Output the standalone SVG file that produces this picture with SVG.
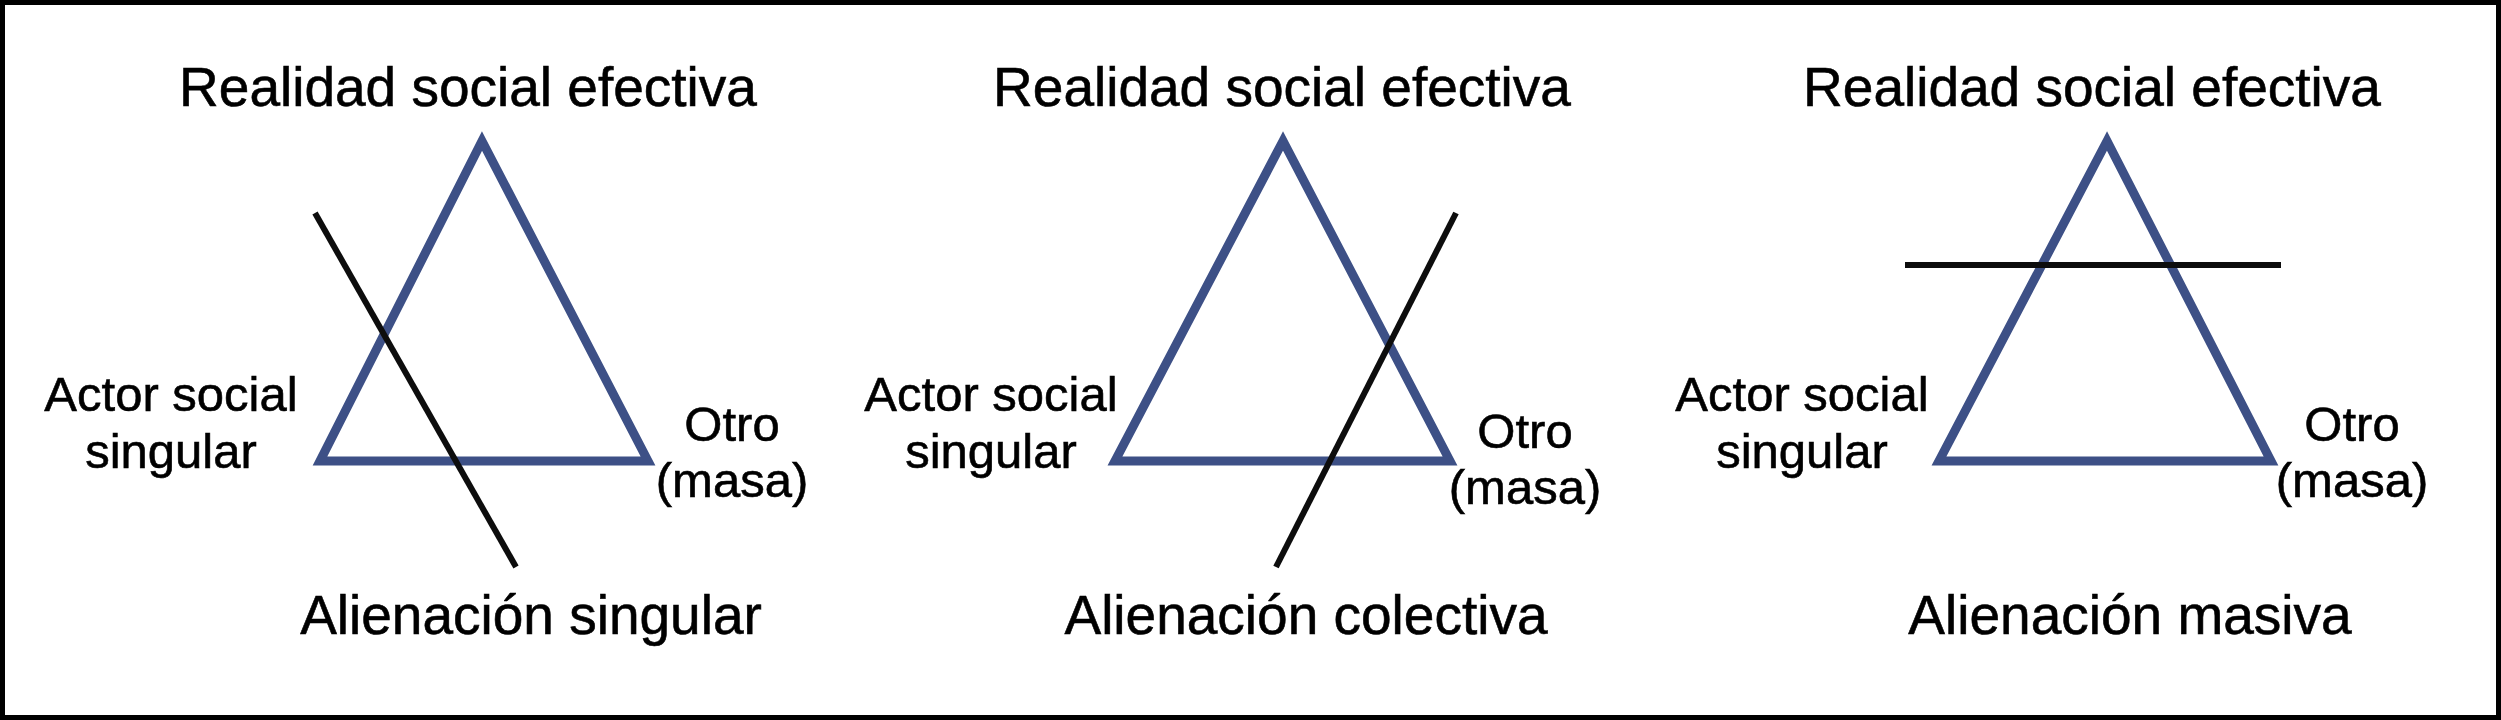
<svg xmlns="http://www.w3.org/2000/svg" width="2501" height="720" viewBox="0 0 2501 720">
<style>
text{font-family:"Liberation Sans",Arial,Helvetica,sans-serif;fill:#000;stroke:#000;stroke-width:0.6;text-anchor:middle}
.big{font-size:55px}
.side{font-size:49px}
.tri{fill:none;stroke:#3d5086;stroke-width:9;stroke-linejoin:miter}
.cut{stroke:#0d0d0d;stroke-width:6;stroke-linecap:butt;fill:none}
</style>
<rect x="2.5" y="2.5" width="2496" height="715" fill="#fff" stroke="#000" stroke-width="5"/>
<g id="panel-singular">
<g id="tri1"><polygon class="tri" points="482,141 320,461 648,461"/></g>
<g id="top1"><text class="big" x="468" y="106">Realidad social efectiva</text></g>
<g id="actor1"><text class="side" x="171" y="411">Actor social</text><text class="side" x="171" y="468">singular</text></g>
<g id="otro1"><text class="side" x="732" y="441">Otro</text><text class="side" x="732" y="497">(masa)</text></g>
<g id="bottom1"><text class="big" x="531" y="634">Alienación singular</text></g>
</g>
<g id="panel-colectiva">
<g id="tri2"><polygon class="tri" points="1283,141 1115,461 1450,461"/></g>
<g id="top2"><text class="big" x="1282" y="106">Realidad social efectiva</text></g>
<g id="actor2"><text class="side" x="991" y="411">Actor social</text><text class="side" x="991" y="468">singular</text></g>
<g id="otro2"><text class="side" x="1525" y="448">Otro</text><text class="side" x="1525" y="504">(masa)</text></g>
<g id="bottom2"><text class="big" x="1306" y="634">Alienación colectiva</text></g>
</g>
<g id="panel-masiva">
<g id="tri3"><polygon class="tri" points="2107,141 1939,461 2271,461"/></g>
<g id="top3"><text class="big" x="2092" y="106">Realidad social efectiva</text></g>
<g id="actor3"><text class="side" x="1802" y="411">Actor social</text><text class="side" x="1802" y="468">singular</text></g>
<g id="otro3"><text class="side" x="2352" y="441">Otro</text><text class="side" x="2352" y="497">(masa)</text></g>
<g id="bottom3"><text class="big" x="2130" y="634">Alienación masiva</text></g>
</g>
<g id="connectors">
<line class="cut" x1="315" y1="213" x2="516" y2="567"/>
<line class="cut" x1="1456" y1="213" x2="1276" y2="567"/>
<line class="cut" x1="1905" y1="265" x2="2281" y2="265"/>
</g>
</svg>
